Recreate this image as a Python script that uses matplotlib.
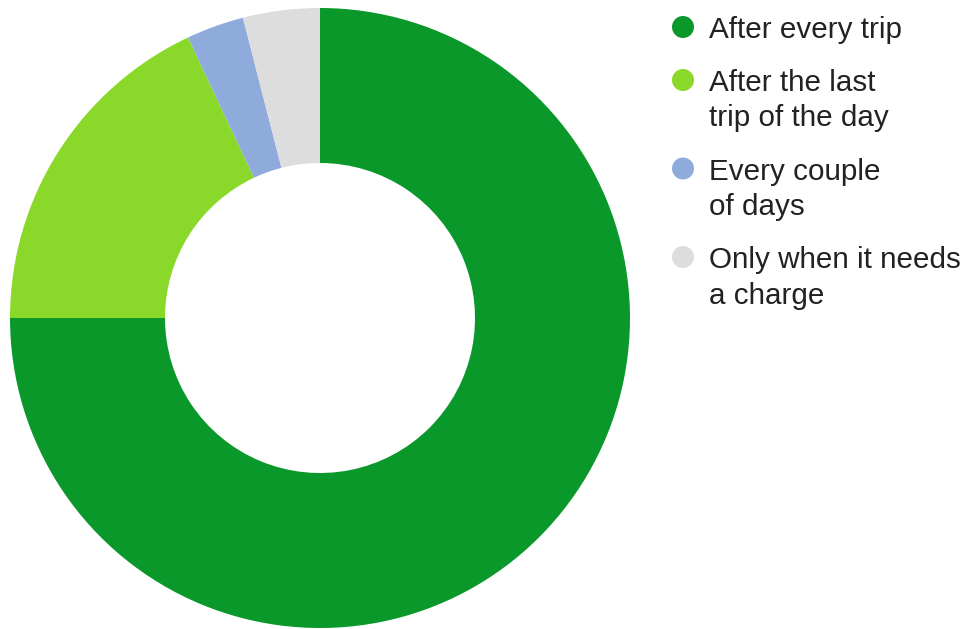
import matplotlib
matplotlib.use("Agg")
import matplotlib.pyplot as plt
from matplotlib.patches import Circle

plt.rcParams['font.family'] = ['Liberation Sans', 'DejaVu Sans']

# How often riders charge their vehicle (share of respondents, %)
labels = ["After every trip", "After the last\ntrip of the day",
          "Every couple\nof days", "Only when it needs\na charge"]
values = [75, 18, 3, 4]
colors = ["#0a982b", "#8ad82a", "#8eabdc", "#dddddd"]

W, H = 966, 629
fig = plt.figure(figsize=(W / 100, H / 100), dpi=100)

# Donut
ax = fig.add_axes([10 / W, 1 / H, 620 / W, 620 / H])
ax.pie(values, colors=colors, startangle=90, counterclock=False,
       wedgeprops=dict(width=0.5, edgecolor="none"))
ax.set_xlim(-1, 1)
ax.set_ylim(-1, 1)
ax.set_aspect("equal")
ax.axis("off")

# Legend drawn in pixel coordinates
lax = fig.add_axes([0, 0, 1, 1])
lax.set_xlim(0, W)
lax.set_ylim(H, 0)
lax.axis("off")

line_gap = 35.5
item_gap = 53
y = 38
for lab, col in zip(labels, colors):
    lax.add_patch(Circle((683, y - 11), 11, color=col, lw=0))
    lines = lab.split("\n")
    for i, ln in enumerate(lines):
        lax.text(709, y + i * line_gap, ln, fontsize=21.3, color="#222222",
                 va="baseline", ha="left")
    y += (len(lines) - 1) * line_gap + item_gap

fig.savefig("out.png", dpi=100)
